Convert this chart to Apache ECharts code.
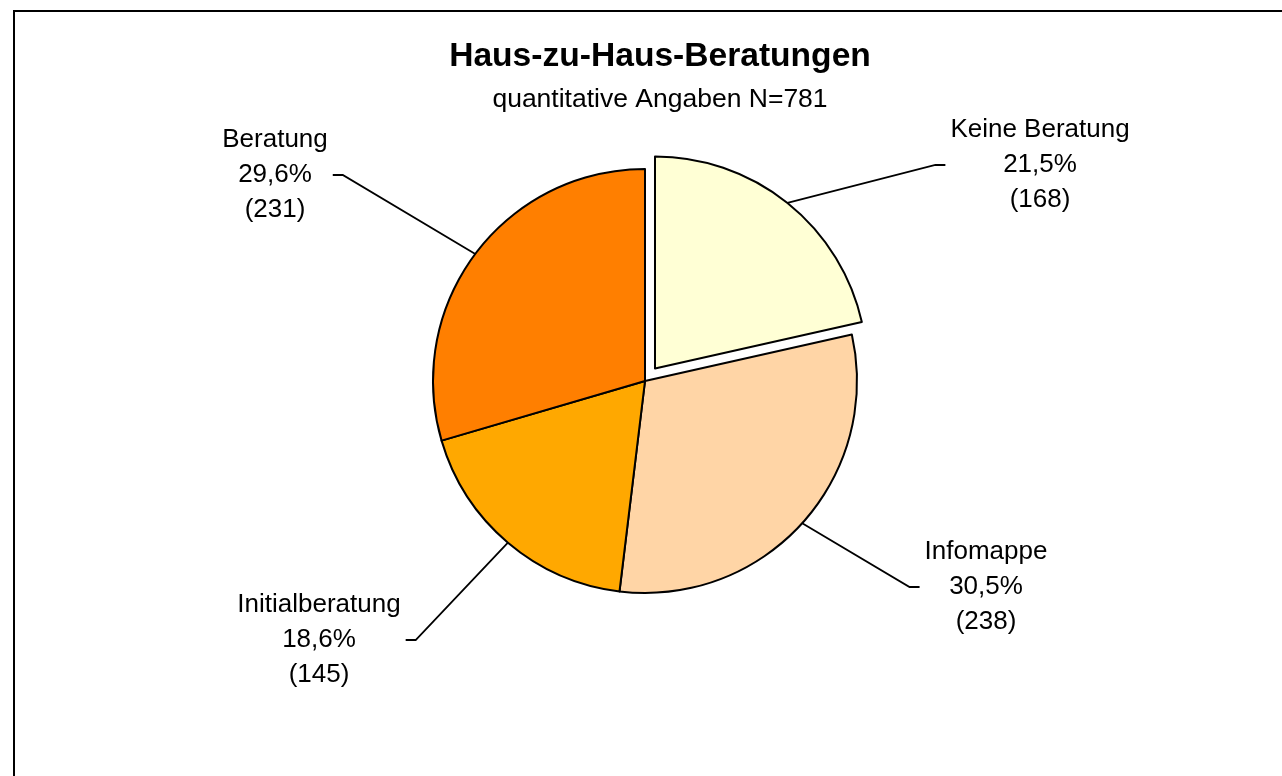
<!DOCTYPE html>
<html>
<head>
<meta charset="utf-8">
<script src="https://cdn.jsdelivr.net/npm/echarts@6/dist/echarts.min.js"></script>
<style>
  html, body { margin: 0; padding: 0; background: #fff; }
  #chart { width: 1282px; height: 776px; }
</style>
</head>
<body>
<div id="chart"></div>
<script>
// Daten
var titleText = 'Haus-zu-Haus-Beratungen';
var subText = 'quantitative Angaben N=781';
var total = 781;
var categories = ['Keine Beratung', 'Infomappe', 'Initialberatung', 'Beratung'];
var counts = [168, 238, 145, 231];
var colors = ['#FFFFD5', '#FFD5A6', '#FFA800', '#FF7F00'];
var explodedIndex = 0;

// Label-Positionen (Mitte des Textblocks) und Seite des Strichs
var labelSpots = {
  'Keine Beratung': { x: 1040, y: 165, side: 'left' },
  'Infomappe': { x: 986, y: 587, side: 'left' },
  'Initialberatung': { x: 319, y: 640, side: 'right' },
  'Beratung': { x: 275, y: 175, side: 'right' }
};

var pieCenter = [645, 381];
var pieRadius = 212;
var explodeDist = 16;

var myChart = echarts.init(document.getElementById('chart'));

// Mittelwinkel des herausgezogenen Stücks (ab 12 Uhr, im Uhrzeigersinn)
var sum = counts.reduce(function (a, b) { return a + b; }, 0);
var before = counts.slice(0, explodedIndex).reduce(function (a, b) { return a + b; }, 0);
var midAngle = (before + counts[explodedIndex] / 2) / sum * Math.PI * 2;
var explodedCenter = [
  pieCenter[0] + explodeDist * Math.sin(midAngle),
  pieCenter[1] - explodeDist * Math.cos(midAngle)
];

function buildData(showExploded) {
  return categories.map(function (name, i) {
    var item = { name: name, value: counts[i], itemStyle: { color: colors[i] } };
    var visible = showExploded ? i === explodedIndex : i !== explodedIndex;
    if (!visible) {
      item.itemStyle = { color: 'rgba(0,0,0,0)', borderWidth: 0 };
      item.label = { show: false };
      item.labelLine = { show: false };
    }
    return item;
  });
}

var labelOpt = {
  show: true,
  position: 'outside',
  fontFamily: 'Liberation Sans',
  fontSize: 26,
  lineHeight: 35,
  color: '#000',
  align: 'center',
  formatter: function (p) {
    var pct = (p.value / total * 100).toFixed(1).replace('.', ',');
    return p.name + '\n' + pct + '%\n(' + p.value + ')';
  }
};

var labelLineOpt = {
  show: true,
  length: 20,
  length2: 10,
  lineStyle: { color: '#000', width: 1.8 }
};

function placeLabel(params) {
  var spot = labelSpots[categories[params.dataIndex]];
  if (!spot || !params.labelLinePoints || !params.labelRect) {
    return {};
  }
  var w = params.labelRect.width;
  var edge = params.labelLinePoints[0];
  var sign = spot.side === 'left' ? -1 : 1;
  var inner = [spot.x + sign * (w / 2 + 5), spot.y];
  var outer = [spot.x + sign * (w / 2 + 15), spot.y];
  return {
    x: spot.x,
    y: spot.y,
    align: 'center',
    verticalAlign: 'middle',
    labelLinePoints: [edge, outer, inner]
  };
}

var option = {
  animation: false,
  title: {
    text: titleText,
    subtext: subText,
    left: 655,
    top: 35,
    textAlign: 'center',
    itemGap: 12,
    textStyle: {
      fontFamily: 'Liberation Sans',
      fontWeight: 'bold',
      fontSize: 33.6,
      color: '#000'
    },
    subtextStyle: {
      fontFamily: 'Liberation Sans',
      fontSize: 26.5,
      color: '#000'
    }
  },
  graphic: [{
    type: 'rect',
    shape: { x: 14, y: 11, width: 1400, height: 900 },
    style: { fill: 'none', stroke: '#000', lineWidth: 2 },
    silent: true
  }],
  series: [{
    type: 'pie',
    center: pieCenter,
    radius: pieRadius,
    startAngle: 90,
    clockwise: true,
    data: buildData(false),
    itemStyle: { borderColor: '#000', borderWidth: 2 },
    emphasis: { disabled: true },
    label: labelOpt,
    labelLine: labelLineOpt,
    labelLayout: placeLabel
  }, {
    type: 'pie',
    center: explodedCenter,
    radius: pieRadius,
    startAngle: 90,
    clockwise: true,
    data: buildData(true),
    itemStyle: { borderColor: '#000', borderWidth: 2 },
    emphasis: { disabled: true },
    label: labelOpt,
    labelLine: labelLineOpt,
    labelLayout: placeLabel
  }]
};

myChart.setOption(option);
</script>
</body>
</html>
